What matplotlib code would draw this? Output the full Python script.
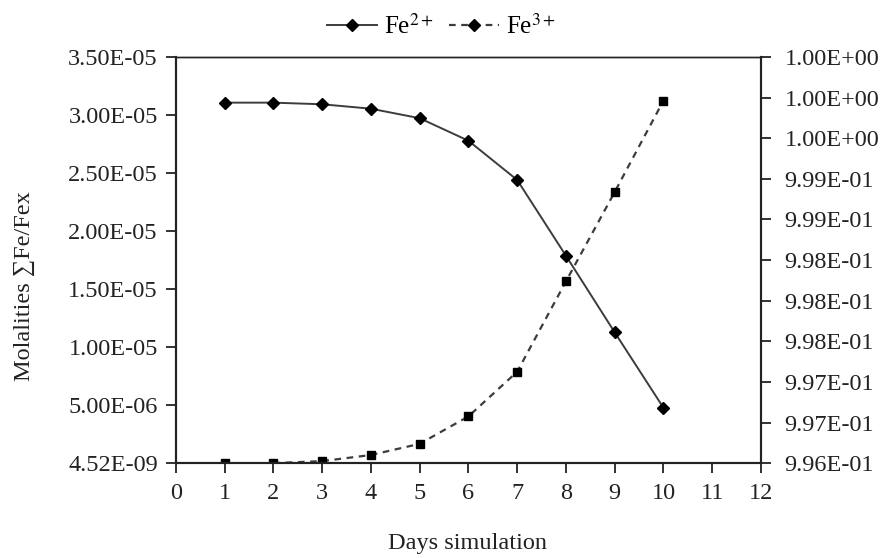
import matplotlib
matplotlib.use('Agg')
import matplotlib.pyplot as plt
from matplotlib.lines import Line2D
from matplotlib.ticker import FormatStrFormatter

# values
days = [1, 2, 3, 4, 5, 6, 7, 8, 9, 10]
fe2 = [3.106e-05, 3.106e-05, 3.092e-05, 3.054e-05, 2.972e-05,
       2.778e-05, 2.440e-05, 1.787e-05, 1.127e-05, 4.77e-06]
fe3 = [0.99640, 0.99640, 0.99642, 0.99648, 0.99659,
       0.99686, 0.99730, 0.99819, 0.99907, 0.99997]

left_ticks = [4.52e-09, 5e-06, 1e-05, 1.5e-05, 2e-05, 2.5e-05, 3e-05, 3.5e-05]
right_ticks = [0.9964 + 0.0004 * i for i in range(11)]
x_ticks = list(range(13))

plt.rcParams['font.family'] = ['Liberation Serif', 'DejaVu Serif']
plt.rcParams['mathtext.fontset'] = 'stix'

fs = 17.5
fig = plt.figure(figsize=(8.88, 5.58), dpi=100)
ax = fig.add_axes([0.198, 0.170, 0.659, 0.728])
ax2 = ax.twinx()

line_col = '#3c3c3c'
ax.plot(days, fe2, color=line_col, linestyle='-', linewidth=1.4,
        marker='D', markersize=6, markerfacecolor='black', markeredgecolor='black')
ax2.plot(days, fe3, color=line_col, linestyle=(0, (3, 2.5)), linewidth=1.6,
         marker='s', markersize=6, markerfacecolor='black', markeredgecolor='black')

ax.set_xlim(0, 12)
ax.set_xticks(x_ticks)
ax.set_ylim(left_ticks[0], left_ticks[-1])
ax.set_yticks(left_ticks)
ax.yaxis.set_major_formatter(FormatStrFormatter('%.2E'))
ax2.set_ylim(right_ticks[0], right_ticks[-1])
ax2.set_yticks(right_ticks)
ax2.yaxis.set_major_formatter(FormatStrFormatter('%.2E'))

for a in (ax, ax2):
    a.tick_params(direction='out', length=7, width=1.3, labelsize=fs, colors='#222222')
    for s in a.spines.values():
        s.set_linewidth(1.5)
        s.set_color('#222222')
    a.spines['top'].set_linestyle((0, (2, 1)))
    a.spines['top'].set_linewidth(1.0)
ax.tick_params(axis='x', pad=7)
ax.tick_params(axis='y', pad=6)
ax2.tick_params(axis='y', pad=10)

fig.text(468 / 888, 1 - 543 / 558, 'Days simulation', fontsize=fs,
         ha='center', va='center', color='#222222')
fig.text(24 / 888, 1 - 286 / 558, 'Molalities \u2211Fe/Fex', fontsize=fs,
         ha='center', va='center', rotation=90, color='#222222')

handles = [
    Line2D([], [], color=line_col, linestyle='-', linewidth=1.4, marker='D',
           markersize=6, markerfacecolor='black', markeredgecolor='black'),
    Line2D([], [], color=line_col, linestyle=(0, (3, 2.5)), linewidth=1.6, marker='D',
           markersize=6, markerfacecolor='black', markeredgecolor='black'),
]
fig.legend(handles, ['Fe$^{2+}$', 'Fe$^{3+}$'], loc='upper center',
           bbox_to_anchor=(0.497, 1.015), ncol=2, frameon=False, fontsize=fs + 0.5,
           handlelength=2.0, columnspacing=0.6, handletextpad=0.3)

fig.savefig('out.png', dpi=100)
